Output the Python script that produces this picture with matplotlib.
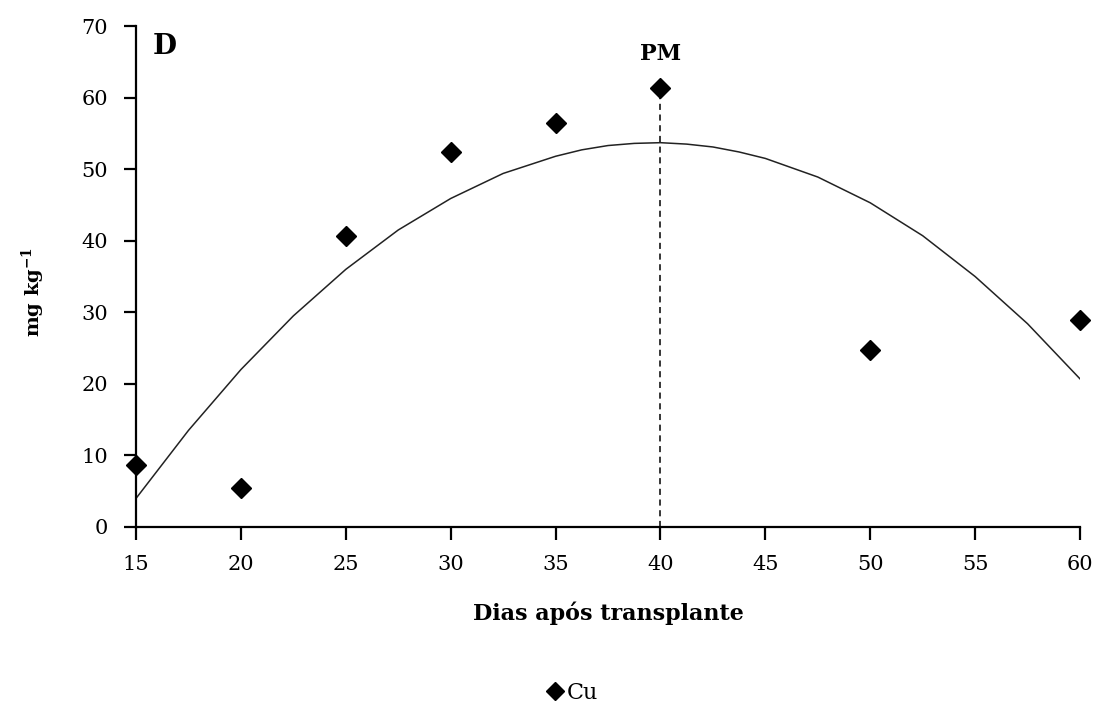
import matplotlib
matplotlib.use("Agg")
import matplotlib.pyplot as plt

plt.rcParams['font.family'] = ['DejaVu Serif']
plt.rcParams['mathtext.fontset'] = 'dejavuserif'

# observed Cu values
dias = [15, 20, 25, 30, 35, 40, 50, 60]
cu = [8.6, 5.5, 40.7, 52.4, 56.5, 61.3, 24.8, 28.9]

# fitted curve
curva_x = [15, 17.5, 20, 22.5, 25, 27.5, 30, 32.5, 35, 36.25, 37.5, 38.75, 40,
           41.25, 42.5, 43.75, 45, 47.5, 50, 52.5, 55, 57.5, 60]
curva_y = [4.0, 13.5, 22.0, 29.5, 36.0, 41.5, 45.9, 49.4, 51.8, 52.7, 53.3, 53.6, 53.7,
           53.5, 53.1, 52.4, 51.5, 48.9, 45.3, 40.7, 35.0, 28.4, 20.7]

pm_x = 40
pm_y = 61.3

fig = plt.figure(figsize=(10.98, 7.11), dpi=100)
ax = fig.add_axes([0.1239, 0.2588, 0.8597, 0.7046])

ax.plot(curva_x, curva_y, color='#222222', linewidth=1.1)
ax.plot([pm_x, pm_x], [0, pm_y], color='black', linestyle='--', linewidth=1.1,
        dashes=(4, 3))
ax.plot(dias, cu, linestyle='None', marker='D', markersize=10.5, color='black',
        clip_on=False, zorder=3, label='Cu')

ax.set_xlim(15, 60)
ax.set_ylim(0, 70)
ax.set_xticks(range(15, 61, 5))
ax.set_yticks(range(0, 71, 10))
ax.spines['top'].set_visible(False)
ax.spines['right'].set_visible(False)
ax.spines['left'].set_linewidth(1.6)
ax.spines['bottom'].set_linewidth(1.6)
ax.tick_params(direction='out', length=9, width=1.6, labelsize=15, pad=11)

ax.set_xlabel('Dias após transplante', fontsize=16, fontweight='bold', labelpad=20)
ax.set_ylabel(r'mg kg$^{\mathbf{-1}}$', fontsize=14, fontweight='bold')
ax.yaxis.set_label_coords(-0.094, 0.47)

ax.text(16.38, 67.1, 'D', fontsize=20, fontweight='bold', ha='center', va='center')
ax.text(pm_x, 66.1, 'PM', fontsize=16, fontweight='bold', ha='center', va='center')

fig.legend(loc='center', bbox_to_anchor=(0.52, 0.026), frameon=False, fontsize=16,
           handletextpad=0.0, handlelength=1.0, markerscale=0.9)

fig.savefig('out.png', dpi=100)
